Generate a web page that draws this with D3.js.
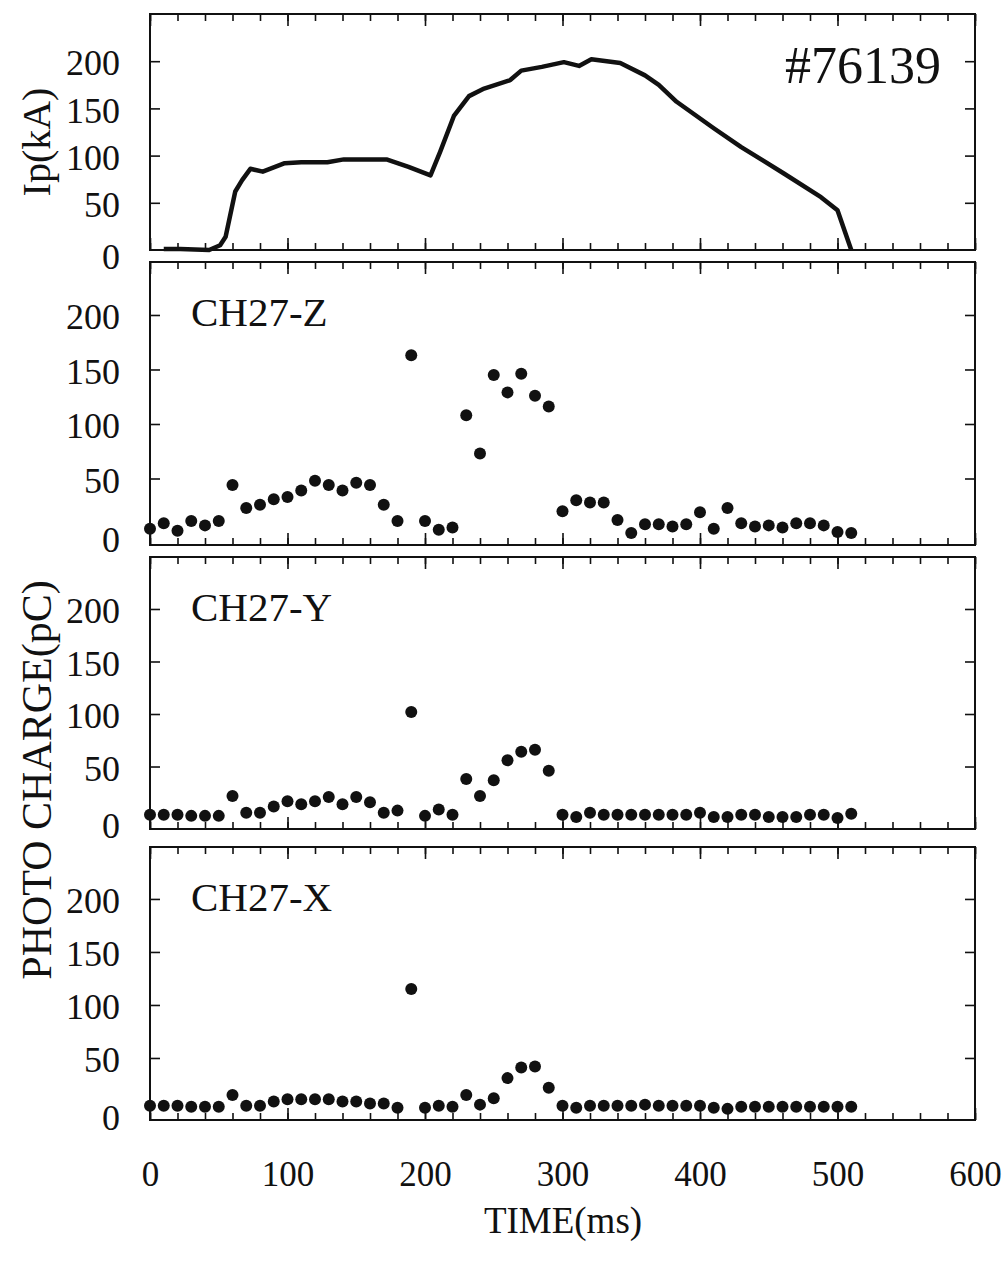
<!DOCTYPE html>
<html><head><meta charset="utf-8">
<script src="https://cdn.jsdelivr.net/npm/d3@7"></script>
<style>
html,body{margin:0;padding:0;background:#fff;}
svg text{font-family:"Liberation Serif","Times New Roman",serif;fill:#111;}
</style></head>
<body>
<svg id="chart" width="1006" height="1270"></svg>
<script>
// ---- data ----
const ipTime  = [10,22,43,51,55,62,67,73,82,98,110,129,141,172,188,204,211,221,232,243,262,270,285,301,312,321,342,360,370,383,410,430,461,488,500,510];
const ipValue = [1,1,0,5,14,62,74,86,83,92,93,93,96,96,88,79,104,142,163,171,180,190,194,199,195,202,198,185,175,157,129,109,81,56,42,0];

const chTime = d3.range(0, 520, 10);
const chZ = [4,9,2,11,7,11,44,23,26,31,33,39,48,44,39,46,44,26,11,163,11,3,5,108,73,145,129,146,126,116,20,30,28,28,12,0,8,8,6,8,19,4,23,9,6,7,5,9,9,7,1,0];
const chY = [4,4,4,3,3,3,22,6,6,12,17,14,17,21,14,21,16,6,8,102,3,9,4,38,22,37,56,64,66,46,4,2,6,4,4,4,4,4,4,4,6,2,2,4,4,2,2,2,4,4,1,5];
const chX = [5,5,5,4,4,4,15,5,5,9,11,11,11,11,9,9,7,7,3,115,3,5,4,15,6,12,31,41,42,22,5,3,5,5,5,5,6,5,5,5,5,3,2,4,4,4,4,4,4,4,4,4];

const channelNames = ["CH27-Z","CH27-Y","CH27-X"];
const xTicksMajor = [0,100,200,300,400,500,600];
const yTicks = [0,50,100,150,200];
const shotLabel = "#76139";
const ipTitle = "Ip(kA)";
const chargeTitle = "PHOTO CHARGE(pC)";
const xTitle = "TIME(ms)";

// ---- layout ----
const svg = d3.select("#chart");
const X0 = 150, X1 = 975;
const x = d3.scaleLinear().domain([0,600]).range([X0, X1]);

const panels = [
  {top:14,  bottom:250,  dom:[0,250]},
  {top:262, bottom:545,  dom:[-11,248.6]},
  {top:557, bottom:829,  dom:[-9.5,249.5]},
  {top:847, bottom:1120, dom:[-8.5,249]}
];
panels.forEach(p => { p.y = d3.scaleLinear().domain(p.dom).range([p.bottom, p.top]); });

const minorX = d3.range(0, 601, 20);

function frame(p, isLast) {
  const g = svg.append("g");
  g.append("rect").attr("x", X0).attr("y", p.top)
    .attr("width", X1 - X0).attr("height", p.bottom - p.top)
    .attr("fill","none").attr("stroke","#111").attr("stroke-width",2);

  const style = sel => { sel.select(".domain").remove(); sel.selectAll("line").attr("stroke","#111").attr("stroke-width",1.6); };
  g.append("g").attr("transform",`translate(0,${p.bottom})`)
    .call(d3.axisBottom(x).tickValues(minorX).tickSize(-7).tickFormat("")).call(style);
  g.append("g").attr("transform",`translate(0,${p.top})`)
    .call(d3.axisTop(x).tickValues(minorX).tickSize(-7).tickFormat("")).call(style);
  g.append("g").attr("transform",`translate(0,${p.bottom})`)
    .call(d3.axisBottom(x).tickValues(xTicksMajor).tickSize(-12).tickFormat("")).call(style);
  g.append("g").attr("transform",`translate(0,${p.top})`)
    .call(d3.axisTop(x).tickValues(xTicksMajor).tickSize(-12).tickFormat("")).call(style);
  g.append("g").attr("transform",`translate(${X0},0)`)
    .call(d3.axisLeft(p.y).tickValues(yTicks.filter(v=>v>0)).tickSize(-10).tickFormat("")).call(style);
  g.append("g").attr("transform",`translate(${X1},0)`)
    .call(d3.axisRight(p.y).tickValues(yTicks.filter(v=>v>0)).tickSize(-10).tickFormat("")).call(style);

  const yl = g.append("g").attr("transform",`translate(${X0},0)`)
    .call(d3.axisLeft(p.y).tickValues(yTicks).tickSize(0).tickPadding(30));
  yl.select(".domain").remove();
  yl.selectAll("text").attr("font-size",36).style("font-family",'"Liberation Serif",serif').attr("fill","#111")
    .attr("dy", d => d === 0 ? "0.52em" : "0.38em");

  if (isLast) {
    const xl = g.append("g").attr("transform",`translate(0,${p.bottom})`)
      .call(d3.axisBottom(x).tickValues(xTicksMajor).tickSize(0).tickPadding(41));
    xl.select(".domain").remove();
    xl.selectAll("text").attr("font-size",35).style("font-family",'"Liberation Serif",serif').attr("fill","#111");
  }
}

panels.forEach((p,i) => frame(p, i === panels.length-1));

// ---- Ip trace ----
const p0 = panels[0];
const line = d3.line().x((d,i)=>x(ipTime[i])).y((d,i)=>p0.y(ipValue[i]));
svg.append("path").datum(ipValue).attr("d", line)
  .attr("fill","none").attr("stroke","#111").attr("stroke-width",4.5).attr("stroke-linejoin","round");

svg.append("text").attr("x", 941).attr("y", 83).attr("text-anchor","end")
  .attr("font-size",52).text(shotLabel);

// ---- channels ----
[chZ, chY, chX].forEach((vals, k) => {
  const p = panels[k+1];
  svg.append("g").selectAll("circle").data(vals).join("circle")
    .attr("cx",(d,i)=>x(chTime[i])).attr("cy",d=>p.y(d)).attr("r",6).attr("fill","#111");
  svg.append("text").attr("x",191).attr("y",p.top+64).attr("font-size",41).text(channelNames[k]);
});

// ---- titles ----
svg.append("text").attr("transform","translate(50,142) rotate(-90)")
  .attr("text-anchor","middle").attr("font-size",40).text(ipTitle);
svg.append("text").attr("transform","translate(51,780) rotate(-90)")
  .attr("text-anchor","middle").attr("font-size",42).text(chargeTitle);
svg.append("text").attr("x",563).attr("y",1233).attr("text-anchor","middle")
  .attr("font-size",37).text(xTitle);
</script>
</body></html>
